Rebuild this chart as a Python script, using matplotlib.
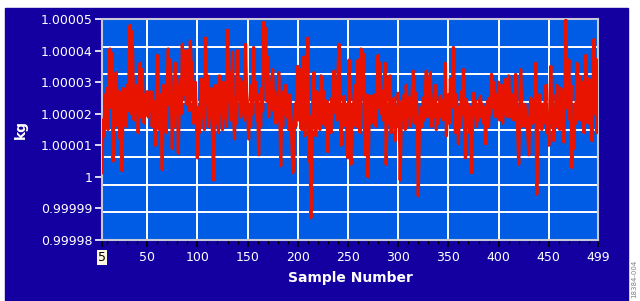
import numpy as np
import matplotlib
matplotlib.use('Agg')
import matplotlib.pyplot as plt
from matplotlib.patches import Rectangle
from matplotlib.ticker import FixedLocator, MultipleLocator

# sample numbers 5..499
first_sample = 5
last_sample = 499

# deviation from 1 kg, in units of 1e-5 kg
dev_e5 = [
    0.13, 1.8, 1.3, 2.6, 1.9, 2.8, 1.5, 3.2, 4.05, 2.2, 3.9, 0.5, 2.9, 1.8, 3.3, 2.4, 1.6, 2.7, 1.2, 2.5,
    0.2, 2.8, 1.9, 2.3, 1.6, 2.9, 2.1, 3.4, 4.8, 2.0, 4.6, 3.1, 1.8, 2.6, 2.1, 2.9, 1.4, 2.5, 3.6, 1.9,
    3.4, 2.3, 1.7, 2.6, 2.0, 2.7, 1.9, 2.5, 2.2, 2.7, 1.6, 2.4, 1.8, 1.0, 2.3, 3.85, 3.2, 1.5, 2.6, 1.9,
    0.23, 2.9, 1.7, 2.5, 1.4, 3.0, 4.05, 2.3, 3.7, 2.8, 0.9, 2.5, 1.6, 3.6, 2.2, 2.9, 0.75, 2.6, 3.1, 2.0,
    4.2, 2.6, 3.8, 4.0, 2.3, 3.3, 4.0, 2.1, 4.3, 3.2, 3.6, 1.7, 2.5, 3.0, 1.8, 0.6, 2.2, 1.4, 2.4, 3.1,
    1.9, 2.7, 1.5, 4.4, 2.6, 3.2, 1.6, 2.4, 1.9, 2.8, 1.3, -0.1, 2.0, 2.9, 1.7, 2.3, 1.4, 3.2, 2.1, 2.8,
    1.5, 3.0, 1.9, 2.6, 1.6, 4.65, 2.4, 3.3, 1.8, 2.7, 3.95, 2.0, 1.2, 2.5, 1.7, 4.0, 2.6, 3.1, 1.9, 2.4,
    3.0, 2.2, 1.8, 4.2, 2.7, 2.3, 1.2, 2.2, 1.6, 2.9, 2.0, 4.1, 2.5, 3.0, 1.8, 2.6, 0.7, 2.3, 1.6, 2.8,
    2.1, 4.9, 3.2, 4.7, 2.4, 3.8, 1.9, 2.7, 2.2, 3.0, 3.4, 2.1, 2.7, 1.7, 2.5, 1.8, 3.3, 2.2, 0.35, 2.4,
    1.6, 2.7, 2.0, 2.9, 1.9, 2.4, 1.5, 2.6, 2.0, 1.2, 0.13, 0.6, 2.3, 1.6, 2.8, 3.5, 1.8, 2.6, 3.4, 1.5,
    2.4, 3.8, 1.3, 2.9, 2.2, 4.4, 0.5, 1.9, -1.3, 1.2, 2.6, 3.3, 2.0, 1.3, 2.7, 1.9, 2.5, 1.5, 3.2, 2.3,
    1.7, 2.7, 2.1, 1.6, 2.4, 0.8, 2.2, 1.9, 1.4, 2.5, 2.0, 3.35, 2.2, 3.0, 1.8, 3.3, 4.2, 2.4, 1.0, 2.1,
    1.6, 2.55, 1.9, 2.3, 1.4, 0.6, 3.7, 1.0, 0.4, 2.3, 1.8, 2.5, 2.9, 1.6, 2.2, 3.7, 2.4, 1.4, 4.05, 2.6,
    3.9, 2.1, 0.7, 1.9, 2.6, 0.0, 1.8, 2.55, 1.7, 2.4, 1.9, 2.6, 2.1, 1.6, 2.8, 3.85, 2.2, 3.6, 2.0, 2.7,
    1.8, 2.5, 3.6, 0.4, 2.1, 1.7, 2.6, 3.2, 1.4, 2.3, 1.8, 2.5, 1.15, 2.2, 1.6, 2.65, 2.0, -0.1, 1.7, 2.4,
    1.9, 2.6, 1.5, 2.9, 2.3, 1.9, 2.5, 1.6, 2.2, 2.8, 3.35, 1.7, 2.4, 2.65, 1.8, -0.6, 1.3, 1.9, 2.2, 1.6,
    2.5, 1.8, 2.7, 3.35, 1.9, 3.1, 2.3, 3.3, 1.6, 2.3, 1.9, 2.6, 2.9, 1.5, 2.2, 1.7, 2.3, 2.55, 1.9, 2.4,
    1.8, 2.6, 3.6, 1.3, 2.1, 2.6, 1.7, 3.1, 2.2, 2.8, 4.1, 2.4, 1.4, 2.6, 1.9, 1.05, 2.2, 1.6, 2.7, 2.0,
    3.4, 1.8, 0.6, 2.45, 1.7, 2.3, 1.4, 2.2, 0.13, 1.6, 2.65, 2.0, 2.4, 1.6, 2.2, 1.8, 2.4, 2.55, 1.9, 2.3,
    1.7, 2.2, 1.05, 2.0, 2.4, 1.6, 2.5, 2.0, 3.25, 2.2, 3.0, 2.4, 1.9, 2.6, 2.1, 3.0, 1.8, 2.5, 2.9, 1.7,
    2.4, 2.0, 3.1, 2.2, 1.9, 3.2, 2.5, 1.9, 2.1, 2.6, 1.8, 2.4, 3.25, 2.0, 1.5, 0.4, 2.1, 3.4, 2.3, 1.8,
    1.6, 2.3, 2.0, 1.9, 1.4, 0.7, 1.8, 2.5, 2.2, 1.7, 2.4, 1.9, 3.6, -0.55, 1.6, 2.1, 2.6, 1.8, 1.5, 2.3,
    1.7, 2.2, 2.9, 1.4, 2.0, 1.0, 2.3, 3.5, 1.9, 2.6, 1.15, 2.0, 1.6, 2.9, 1.7, 2.4, 1.5, 2.8, 2.1, 1.6,
    1.1, 2.6, 4.97, 2.2, 3.1, 3.7, 1.8, 2.9, 0.3, 1.5, 0.9, 2.3, 1.7, 3.6, 2.0, 3.2, 1.8, 2.4, 3.0, 1.9,
    1.4, 2.6, 3.85, 2.2, 1.7, 3.1, 2.4, 1.9, 1.15, 2.6, 4.35, 2.0, 3.73, 1.4, 3.35,
]

x_ticks = [5, 50, 100, 150, 200, 250, 300, 350, 400, 450, 499]
y_ticks = [0.99998, 0.99999, 1.0, 1.00001, 1.00002, 1.00003, 1.00004, 1.00005]
y_labels = ['0.99998', '0.99999', '1', '1.00001', '1.00002', '1.00003', '1.00004', '1.00005']

NAVY = '#1400a0'
PLOT_BLUE = '#005ce4'
RED = '#e81400'

samples = np.arange(first_sample, last_sample + 1)
mass = 1 + np.array(dev_e5) * 1e-5

fig = plt.figure(figsize=(6.4, 3.01), dpi=100, facecolor='white')
bg = Rectangle((5 / 640, 0), 623 / 640, 293 / 301,
               transform=fig.transFigure, color=NAVY, zorder=-10)
fig.add_artist(bg)

ax = fig.add_axes([102 / 640, 61 / 301, 496 / 640, 221 / 301])
ax.set_facecolor(PLOT_BLUE)
ax.plot(samples, mass, color=RED, lw=2.3, zorder=3)

ax.set_xlim(5, 499)
ax.set_ylim(0.99998, 1.00005)

# x axis
ax.xaxis.set_major_locator(FixedLocator(x_ticks))
ax.xaxis.set_minor_locator(MultipleLocator(10))
ax.set_xticklabels([str(t) for t in x_ticks])
ax.tick_params(axis='x', which='major', length=5, width=1.2, color='black',
               labelcolor='white', labelsize=9, pad=3)
ax.tick_params(axis='x', which='minor', length=3, width=1, color='black')
ax.get_xticklabels()[0].set_color('black')
ax.get_xticklabels()[0].set_bbox(dict(facecolor='#fff8e0', edgecolor='none', pad=0.5))

# y axis
ax.yaxis.set_major_locator(FixedLocator(y_ticks))
ax.set_yticklabels(y_labels)
grid_levels = np.linspace(0.99998, 1.00005, 9)[1:-1]
ax.yaxis.set_minor_locator(FixedLocator(grid_levels))
ax.tick_params(axis='y', which='major', length=5, width=1.2, color='white',
               labelcolor='white', labelsize=9, pad=2)
ax.tick_params(axis='y', which='minor', length=0)

ax.grid(axis='x', which='major', color='white', lw=1.4, zorder=1)
ax.grid(axis='y', which='minor', color='white', lw=1.4, zorder=1)
ax.set_axisbelow(True)
for s in ax.spines.values():
    s.set_color('#c8c8d8')
    s.set_linewidth(1.5)

ax.set_xlabel('Sample Number', color='white', fontsize=10, fontweight='bold', labelpad=5)
ax.set_ylabel('kg', color='white', fontsize=10, fontweight='bold', labelpad=9)

fig.text(634 / 640, 22 / 301, '18384-004', rotation=90, fontsize=5,
         color='#808080', ha='center', va='center')

fig.savefig('out.png', dpi=100, facecolor='white')
